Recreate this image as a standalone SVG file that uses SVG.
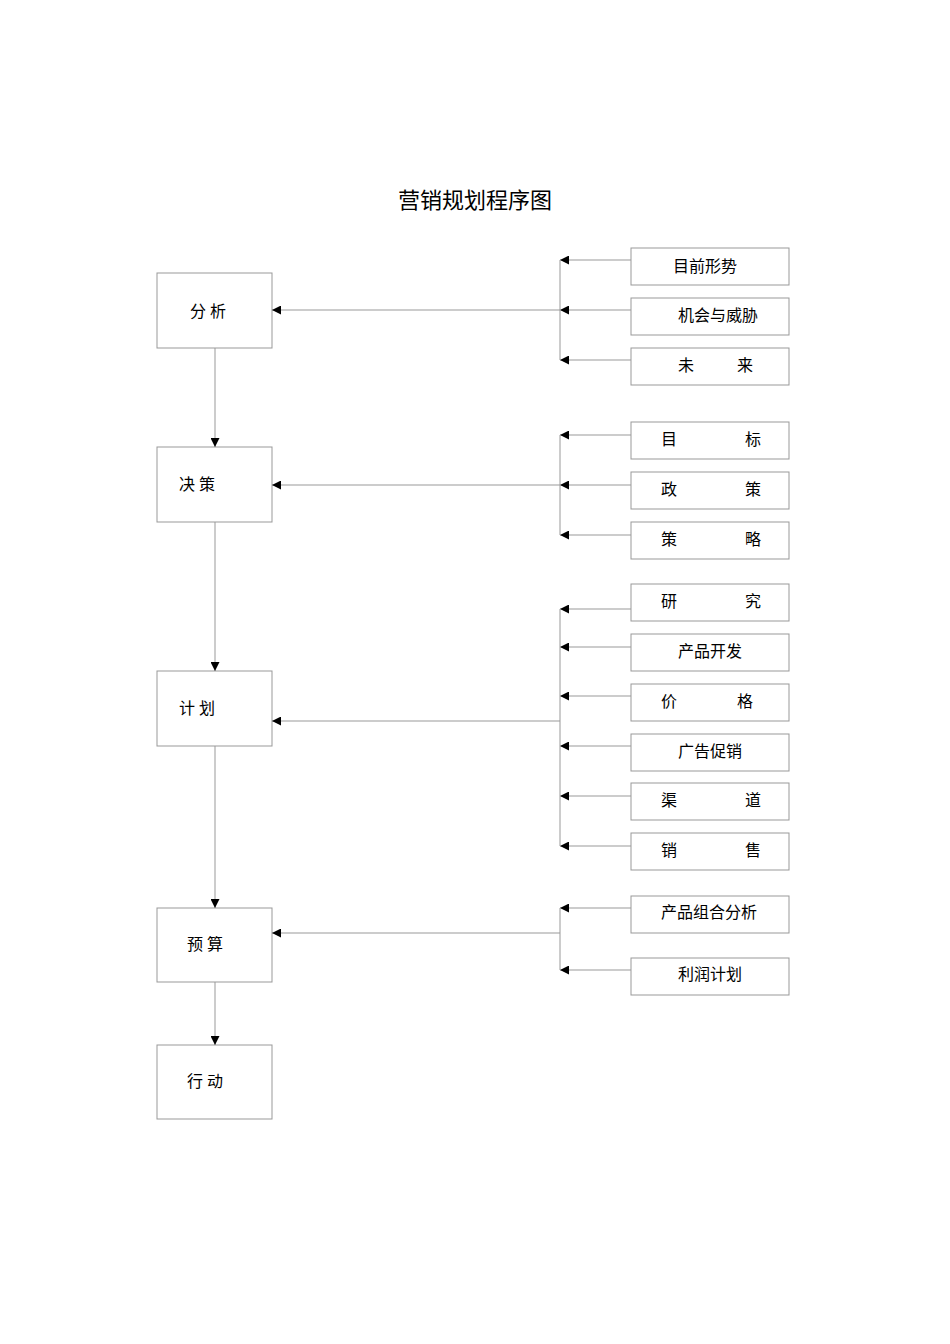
<svg xmlns="http://www.w3.org/2000/svg" width="950" height="1344" viewBox="0 0 950 1344">
<style>
rect{fill:#fff;stroke:#999;stroke-width:1}
text{font-family:"Liberation Serif","Noto Sans CJK SC",serif;font-size:16px;fill:#000}
.t{font-size:22px}
line{stroke:#999;stroke-width:1}
</style>
<defs><marker id="a" viewBox="0 0 10 10" refX="10" refY="5" markerWidth="9" markerHeight="9" markerUnits="userSpaceOnUse" orient="auto"><path d="M0,0L10,5L0,10z" fill="#000"/></marker></defs>
<rect width="950" height="1344" style="stroke:none"/>
<text class="t" x="475" y="208" text-anchor="middle">营销规划程序图</text>
<g id="n1"><rect x="157" y="273" width="115" height="75"/><text x="190" y="317">分  析</text></g>
<g id="n2"><rect x="157" y="447" width="115" height="75"/><text x="179" y="490">决    策</text></g>
<g id="n3"><rect x="157" y="671" width="115" height="75"/><text x="179" y="714">计    划</text></g>
<g id="n4"><rect x="157" y="908" width="115" height="74"/><text x="187" y="950">预    算</text></g>
<g id="n5"><rect x="157" y="1045" width="115" height="74"/><text x="187" y="1087">行    动</text></g>
<g id="r1"><rect x="631" y="248" width="158" height="37"/><text x="673" y="272">目前形势</text></g>
<g id="r2"><rect x="631" y="298" width="158" height="37"/><text x="678" y="321">机会与威胁</text></g>
<g id="r3"><rect x="631" y="348" width="158" height="37"/><text x="678" y="371">未</text><text x="737" y="371">来</text></g>
<g id="r4"><rect x="631" y="422" width="158" height="37"/><text x="661" y="445">目</text><text x="745" y="445">标</text></g>
<g id="r5"><rect x="631" y="472" width="158" height="37"/><text x="661" y="495">政</text><text x="745" y="495">策</text></g>
<g id="r6"><rect x="631" y="522" width="158" height="37"/><text x="661" y="545">策</text><text x="745" y="545">略</text></g>
<g id="r7"><rect x="631" y="584" width="158" height="37"/><text x="661" y="607">研</text><text x="745" y="607">究</text></g>
<g id="r8"><rect x="631" y="634" width="158" height="37"/><text x="678" y="657">产品开发</text></g>
<g id="r9"><rect x="631" y="684" width="158" height="37"/><text x="661" y="707">价</text><text x="737" y="707">格</text></g>
<g id="r10"><rect x="631" y="734" width="158" height="37"/><text x="678" y="757">广告促销</text></g>
<g id="r11"><rect x="631" y="783" width="158" height="37"/><text x="661" y="806">渠</text><text x="745" y="806">道</text></g>
<g id="r12"><rect x="631" y="833" width="158" height="37"/><text x="661" y="856">销</text><text x="745" y="856">售</text></g>
<g id="r13"><rect x="631" y="896" width="158" height="37"/><text x="661" y="918">产品组合分析</text></g>
<g id="r14"><rect x="631" y="958" width="158" height="37"/><text x="678" y="980">利润计划</text></g>
<g id="edges" marker-end="url(#a)">
<line x1="631" y1="260" x2="560" y2="260"/><line x1="631" y1="310" x2="560" y2="310"/><line x1="631" y1="360" x2="560" y2="360"/>
<line x1="560" y1="260" x2="560" y2="360" marker-end="none"/><line x1="560" y1="310" x2="272" y2="310"/>
<line x1="631" y1="435" x2="560" y2="435"/><line x1="631" y1="485" x2="560" y2="485"/><line x1="631" y1="535" x2="560" y2="535"/>
<line x1="560" y1="435" x2="560" y2="535" marker-end="none"/><line x1="560" y1="485" x2="272" y2="485"/>
<line x1="631" y1="609" x2="560" y2="609"/><line x1="631" y1="647" x2="560" y2="647"/><line x1="631" y1="696" x2="560" y2="696"/><line x1="631" y1="746" x2="560" y2="746"/><line x1="631" y1="796" x2="560" y2="796"/><line x1="631" y1="846" x2="560" y2="846"/>
<line x1="560" y1="609" x2="560" y2="846" marker-end="none"/><line x1="560" y1="721" x2="272" y2="721"/>
<line x1="631" y1="908" x2="560" y2="908"/><line x1="631" y1="970" x2="560" y2="970"/>
<line x1="560" y1="908" x2="560" y2="970" marker-end="none"/><line x1="560" y1="933" x2="272" y2="933"/>
<line x1="215" y1="348" x2="215" y2="447"/><line x1="215" y1="522" x2="215" y2="671"/><line x1="215" y1="746" x2="215" y2="908"/><line x1="215" y1="982" x2="215" y2="1045"/>
</g>
</svg>
